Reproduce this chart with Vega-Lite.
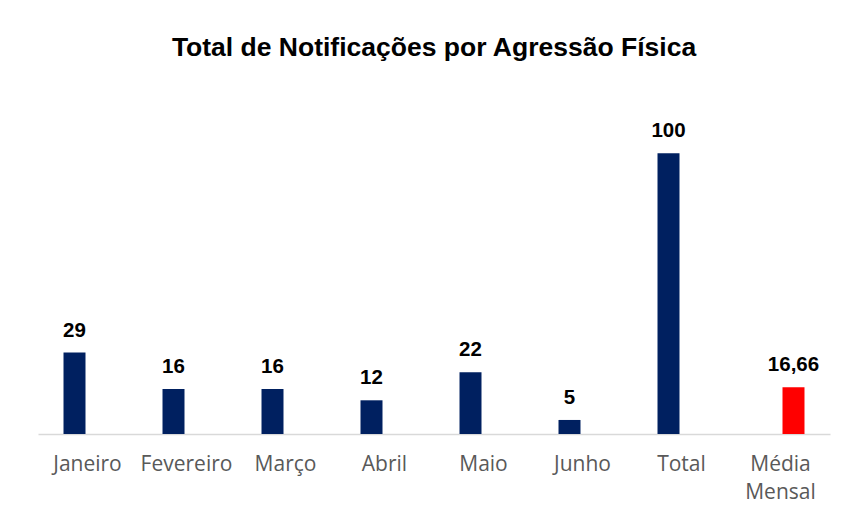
{
  "$schema": "https://vega.github.io/schema/vega-lite/v6.json",
  "width": 792,
  "height": 337,
  "autosize": {"type": "none"},
  "padding": {"left": 38, "top": 97, "right": 16, "bottom": 83},
  "background": "white",
  "title": {
    "text": "Total de Notificações por Agressão Física",
    "font": "Liberation Sans",
    "fontSize": 26.5,
    "fontWeight": "bold",
    "color": "#000000",
    "anchor": "middle",
    "offset": 36
  },
  "data": {
    "values": [
      {"categoria": "Janeiro", "valor": 29, "serie": "A"},
      {"categoria": "Fevereiro", "valor": 16, "serie": "A"},
      {"categoria": "Março", "valor": 16, "serie": "A"},
      {"categoria": "Abril", "valor": 12, "serie": "A"},
      {"categoria": "Maio", "valor": 22, "serie": "A"},
      {"categoria": "Junho", "valor": 5, "serie": "A"},
      {"categoria": "Total", "valor": 100, "serie": "A"},
      {"categoria": "Média Mensal", "valor": 16.66, "serie": "B"}
    ]
  },
  "transform": [
    {"calculate": "replace(toString(datum.valor), '.', ',')", "as": "rotulo"}
  ],
  "encoding": {
    "x": {
      "field": "categoria",
      "type": "nominal",
      "sort": null,
      "scale": {"paddingInner": 0, "paddingOuter": 0},
      "axis": {
        "title": null,
        "domainColor": "#d9d9d9",
        "domainWidth": 1.5,
        "ticks": false,
        "labelAngle": 0,
        "labelFont": "Open Sans",
        "labelFontSize": 21,
        "labelColor": "#595959",
        "labelPadding": 19,
        "labelBaseline": "top",
        "labelLineHeight": 28,
        "labelExpr": "datum.value == 'Média Mensal' ? ['Média', 'Mensal'] : datum.value"
      }
    },
    "xOffset": {
      "field": "serie",
      "type": "nominal",
      "scale": {"domain": ["A", "B"], "paddingInner": 0.154, "paddingOuter": 0.981}
    },
    "y": {
      "field": "valor",
      "type": "quantitative",
      "scale": {"domain": [0, 120]},
      "axis": null
    }
  },
  "layer": [
    {
      "mark": {"type": "bar"},
      "encoding": {
        "color": {
          "field": "serie",
          "type": "nominal",
          "scale": {"domain": ["A", "B"], "range": ["#002060", "#ff0000"]},
          "legend": null
        }
      }
    },
    {
      "mark": {
        "type": "text",
        "font": "Liberation Sans",
        "fontSize": 20.5,
        "fontWeight": "bold",
        "color": "#000000",
        "dy": -16,
        "baseline": "alphabetic",
        "align": "center"
      },
      "encoding": {
        "text": {"field": "rotulo", "type": "nominal"}
      }
    }
  ],
  "config": {
    "view": {"stroke": null}
  }
}
